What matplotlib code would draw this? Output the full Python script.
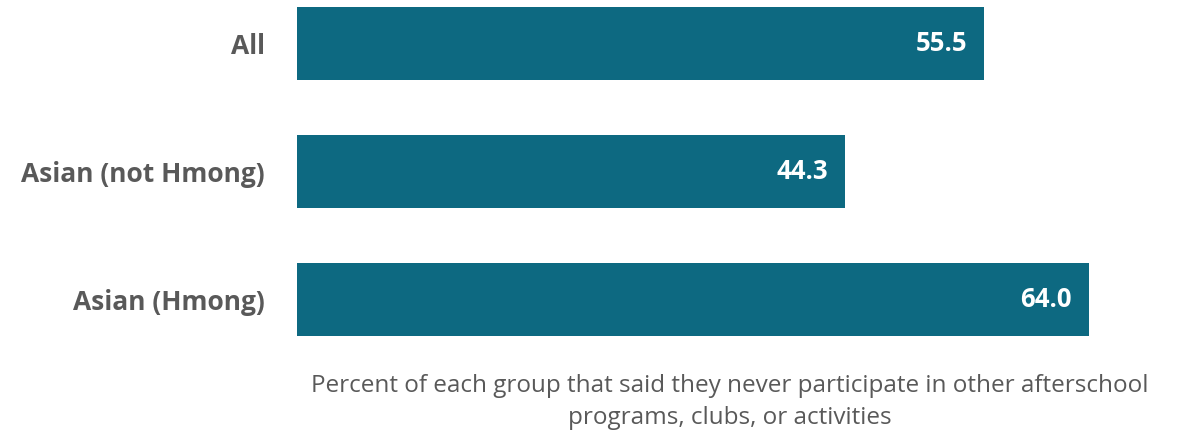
import matplotlib.pyplot as plt

# Data
groups = ["All", "Asian (not Hmong)", "Asian (Hmong)"]
values = [55.5, 44.3, 64.0]
caption = ("Percent of each group that said they never participate in other afterschool\n"
           "programs, clubs, or activities")

bar_color = "#0d6981"
label_color = "#595959"

plt.rcParams['font.family'] = ['Open Sans', 'DejaVu Sans']

fig = plt.figure(figsize=(11.83, 4.34), dpi=100)
ax = fig.add_axes([297 / 1183, 1 - 363 / 434, (1163 - 297) / 1183, 363 / 434])

ypos = list(range(len(groups)))
ax.barh(ypos, values, height=0.57, color=bar_color)

for y, v in zip(ypos, values):
    ax.text(v - 1.35, y, f"{v:.1f}", ha="right", va="center",
            color="white", fontsize=18.5, fontweight="bold")

ax.set_xlim(0, 70)
ax.set_ylim(2.5, -0.34)
ax.set_yticks(ypos)
ax.set_yticklabels(groups, fontsize=19, fontweight="bold", color=label_color)
ax.tick_params(axis="y", length=0, pad=23)
ax.set_xticks([])
for s in ax.spines.values():
    s.set_visible(False)

fig.text((297 + 1163) / 2 / 1183, 1 - 402 / 434, caption, ha="center", va="center",
         fontsize=17.5, color=label_color, linespacing=1.5)

fig.savefig("out.png", dpi=100)
